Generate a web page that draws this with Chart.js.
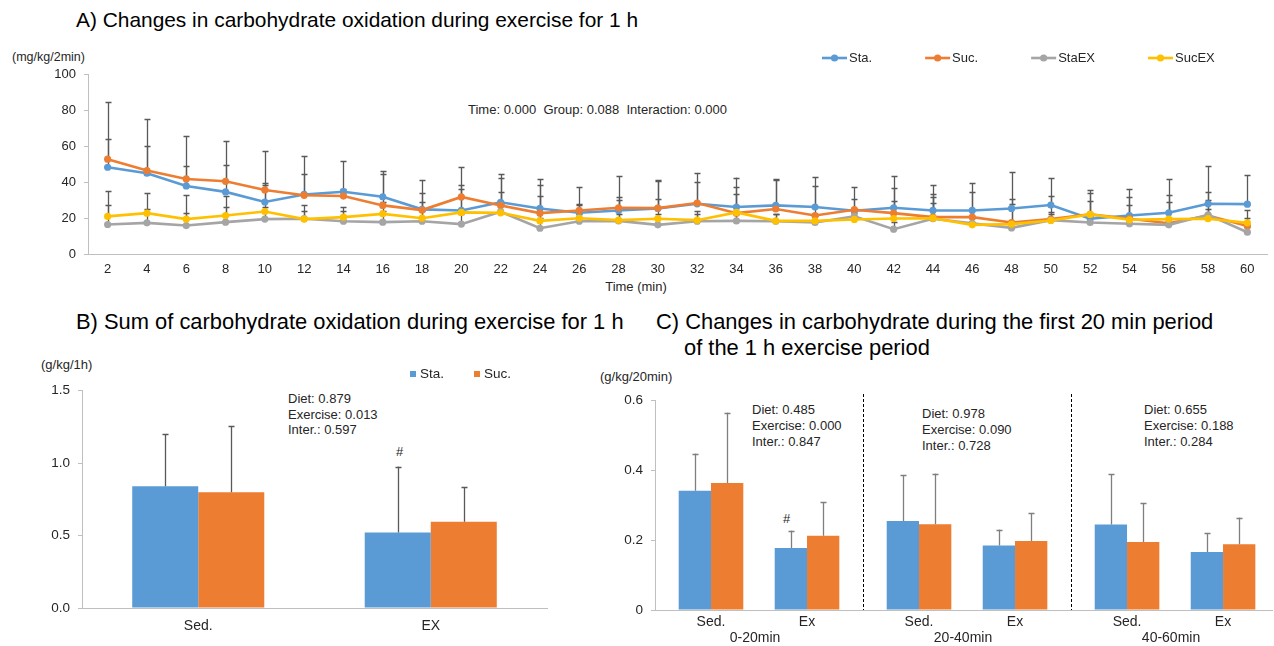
<!DOCTYPE html>
<html><head><meta charset="utf-8">
<script src="https://cdn.jsdelivr.net/npm/chart.js@4.4.0/dist/chart.umd.min.js"></script>
<style>
body{margin:0;background:#fff;width:1274px;height:646px;overflow:hidden;position:relative;font-family:"Liberation Sans",Arial,sans-serif;}
canvas{position:absolute;}
.t{position:absolute;white-space:nowrap;color:#000;}
.s{position:absolute;white-space:nowrap;color:#262626;font-size:13px;}
</style></head><body>
<div class="t" style="left:76px;top:7px;font-size:20.9px;line-height:26px">A) Changes in carbohydrate oxidation during exercise for 1 h</div>
<div class="s" style="left:12px;top:50px;font-size:12.5px;line-height:15px">(mg/kg/2min)</div>
<div class="s" style="left:468px;top:102px;line-height:16px">Time: 0.000&nbsp;&nbsp;Group: 0.088&nbsp;&nbsp;Interaction: 0.000</div>
<div class="s" style="left:586px;top:279px;line-height:16px;width:100px;text-align:center">Time (min)</div>

<div class="t" style="left:76px;top:309px;font-size:21.9px;line-height:26px">B) Sum of carbohydrate oxidation during exercise for 1 h</div>
<div class="s" style="left:41px;top:357px;line-height:16px">(g/kg/1h)</div>
<div class="s" style="left:288px;top:391px;line-height:15.5px">Diet: 0.879<br>Exercise: 0.013<br>Inter.: 0.597</div>
<div class="s" style="left:396px;top:444px;line-height:16px">#</div>

<div class="t" style="left:656px;top:309px;font-size:21.9px;line-height:26px">C) Changes in carbohydrate during the first 20 min period</div>
<div class="t" style="left:684px;top:335px;font-size:21.9px;line-height:26px">of the 1 h exercise period</div>
<div class="s" style="left:600px;top:369px;line-height:16px">(g/kg/20min)</div>
<div class="s" style="left:752px;top:402px;line-height:16px">Diet: 0.485<br>Exercise: 0.000<br>Inter.: 0.847</div>
<div class="s" style="left:922px;top:406px;line-height:16px">Diet: 0.978<br>Exercise: 0.090<br>Inter.: 0.728</div>
<div class="s" style="left:1144px;top:402px;line-height:16px">Diet: 0.655<br>Exercise: 0.188<br>Inter.: 0.284</div>
<div class="s" style="left:783px;top:511px;line-height:16px">#</div>

<canvas id="cA" width="1274" height="300" style="left:0;top:0"></canvas>
<canvas id="cB" width="560" height="286" style="left:0;top:360px"></canvas>
<canvas id="cC" width="674" height="286" style="left:600px;top:360px"></canvas>

<script>
// ---------- Panel A data ----------
const timeLabels = ['2','4','6','8','10','12','14','16','18','20','22','24','26','28','30','32','34','36','38','40','42','44','46','48','50','52','54','56','58','60'];
const staMean   = [48.2,44.9,37.8,34.5,28.9,33.1,34.6,31.8,24.8,24.2,28.7,25.3,22.9,24.2,25.3,27.9,26.1,27.0,26.1,24.0,25.7,24.2,24.2,25.3,27.2,19.6,21.4,22.9,27.9,27.7];
const staSD     = [15.5,14.9,11.2,15.0,10.8,21.1,17.2,14.2,16.4,14.0,15.8,16.4,4.8,7.3,15.3,12.3,16.4,14.7,16.5,6.4,17.5,14.0,15.3,20.1,15.1,14.3,14.9,18.8,20.9,16.2];
const sucMean   = [52.7,46.4,41.7,40.4,35.6,32.6,32.2,27.0,24.4,31.7,27.0,22.7,24.2,25.7,25.5,28.3,22.7,25.0,21.4,24.6,22.7,20.5,20.5,17.5,19.4,22.0,19.6,17.1,21.4,15.6];
const sucSD     = [31.5,28.5,23.7,22.5,21.6,11.9,4.0,17.7,9.5,16.7,15.1,15.7,13.0,17.7,15.7,16.6,14.7,16.3,16.4,12.5,14.0,13.0,14.1,13.0,12.6,13.6,12.1,15.7,13.1,9.0];
const staExMean = [16.4,17.3,15.8,17.7,19.4,19.6,18.2,17.7,18.2,16.6,23.5,14.3,18.2,18.4,16.2,18.2,18.4,18.2,17.5,20.9,13.8,19.6,17.0,14.5,18.8,17.5,16.8,16.2,21.8,12.1];
const staExSD   = [10.8,7.7,7.1,8.4,6.6,4.4,5.8,6.3,5.8,5.4,4.5,5.7,3.8,3.6,6.1,3.8,3.6,3.8,3.5,3.1,4.2,8.7,3.0,3.5,3.2,3.5,3.2,3.8,3.2,2.9];
const sucExMean = [20.9,22.7,19.4,21.4,23.6,19.4,20.5,22.3,19.9,23.1,22.9,18.4,19.9,18.8,19.6,18.8,23.1,18.4,18.4,19.2,19.7,19.9,16.2,16.6,18.6,22.0,19.0,19.4,19.6,17.3];
const sucExSD   = [14.3,11.2,13.2,10.8,14.8,7.6,5.8,6.4,8.8,13.0,11.4,13.8,7.1,11.4,10.8,5.2,10.2,3.6,3.6,3.8,9.9,11.6,3.8,11.3,4.7,7.6,8.0,9.5,10.4,2.7];
const yTicksA = [0,20,40,60,80,100];

// ---------- Panel B data ----------
const groupsB = ['Sed.','EX'];
const staB   = [0.841,0.521];
const staBSD = [0.360,0.455];
const sucB   = [0.799,0.595];
const sucBSD = [0.455,0.239];

// ---------- Panel C data ----------
const periodsC = ['0-20min','20-40min','40-60min'];
const condsC   = ['Sed.','Ex'];
const staC   = [0.341,0.177,0.254,0.184,0.244,0.166];
const staCSD = [0.106,0.050,0.132,0.046,0.145,0.053];
const sucC   = [0.363,0.212,0.245,0.197,0.194,0.188];
const sucCSD = [0.201,0.096,0.145,0.080,0.112,0.076];

const FONT = '"Liberation Sans", Arial, sans-serif';
Chart.defaults.font.family = FONT;
const BLUE='#5B9BD5', ORANGE='#ED7D31', GRAY='#A5A5A5', YELLOW='#FFC000';
const AXIS='#bfbfbf', TXT='#262626';

function drawErr(chart, o){
  const ctx = chart.ctx, ys = chart.scales.y;
  ctx.save();
  ctx.strokeStyle = o.color; ctx.lineWidth = o.width;
  chart.data.datasets.forEach((ds,i)=>{
    if(!ds.sd) return;
    const meta = chart.getDatasetMeta(i);
    meta.data.forEach((el,j)=>{
      const d = ds.data[j]; const v = (typeof d === 'object') ? d.y : d;
      const top = ys.getPixelForValue(v + ds.sd[j]);
      const x = Math.round(el.x) + 0.5;
      ctx.beginPath();
      ctx.moveTo(x, el.y); ctx.lineTo(x, top);
      ctx.moveTo(x - o.cap, Math.round(top)+0.5); ctx.lineTo(x + o.cap, Math.round(top)+0.5);
      ctx.stroke();
    });
  });
  ctx.restore();
}
const errorBars = {
  id:'errorBars',
  beforeDatasetsDraw(chart,a,o){ if(o.under) drawErr(chart,o); },
  afterDatasetsDraw(chart,a,o){ if(!o.under) drawErr(chart,o); }
};
const lineLegend = {
  id:'lineLegend',
  afterDraw(chart,a,o){
    const ctx = chart.ctx; let x = o.x;
    ctx.save(); ctx.font = '13px ' + FONT; ctx.textBaseline = 'middle';
    chart.data.datasets.forEach(ds=>{
      ctx.strokeStyle = ds.borderColor; ctx.lineWidth = 2.6;
      ctx.beginPath(); ctx.moveTo(x,o.y); ctx.lineTo(x+o.len,o.y); ctx.stroke();
      ctx.fillStyle = ds.borderColor; ctx.beginPath(); ctx.arc(x+o.len/2,o.y,3.6,0,Math.PI*2); ctx.fill();
      ctx.fillStyle = TXT; ctx.fillText(ds.label, x+o.len+2, o.y);
      x += o.len + 2 + ctx.measureText(ds.label).width + o.gap;
    });
    ctx.restore();
  }
};
const boxLegend = {
  id:'boxLegend',
  afterDraw(chart,a,o){
    const ctx = chart.ctx; let x = o.x;
    ctx.save(); ctx.font = '13.5px ' + FONT; ctx.textBaseline = 'middle';
    chart.data.datasets.forEach(ds=>{
      ctx.fillStyle = ds.backgroundColor; ctx.fillRect(x, o.y-3, 6, 6);
      ctx.fillStyle = TXT; ctx.fillText(ds.label, x+10, o.y);
      x += 10 + ctx.measureText(ds.label).width + o.gap;
    });
    ctx.restore();
  }
};

// ---------- Chart A ----------
function lineDs(label, data, sd, color, order){
  return {label, data, sd, borderColor:color, backgroundColor:color, pointBackgroundColor:color,
          borderWidth:2.6, pointRadius:3.6, pointBorderWidth:0, tension:0, order};
}
new Chart(document.getElementById('cA'), {
  type:'line',
  data:{labels:timeLabels, datasets:[
    lineDs('Sta.',  staMean,   staSD,   BLUE,   4),
    lineDs('Suc.',  sucMean,   sucSD,   ORANGE, 3),
    lineDs('StaEX', staExMean, staExSD, GRAY,   2),
    lineDs('SucEX', sucExMean, sucExSD, YELLOW, 1)
  ]},
  options:{
    responsive:false, animation:false, events:[],
    layout:{padding:{top:74,right:7,left:0,bottom:0}},
    plugins:{legend:{display:false}, tooltip:{enabled:false},
      errorBars:{color:'#595959', width:1.3, cap:3, under:true},
      lineLegend:{x:822, y:58, len:25, gap:53}},
    scales:{
      x:{type:'category', offset:true, grid:{display:false, drawTicks:false}, border:{color:AXIS, width:1},
         ticks:{autoSkip:false, maxRotation:0, padding:8, color:TXT, font:{size:13}},
         afterFit(s){ s.height = 46; }},
      y:{min:0, max:100, afterBuildTicks(s){ s.ticks = yTicksA.map(v=>({value:v})); },
         ticks:{padding:8, color:TXT, font:{size:13}},
         grid:{drawOnChartArea:false, tickLength:4, color:AXIS}, border:{color:AXIS, width:1},
         afterFit(s){ s.width = 88; }}
    }
  },
  plugins:[errorBars, lineLegend]
});

// ---------- Chart B ----------
new Chart(document.getElementById('cB'), {
  type:'bar',
  data:{labels:groupsB, datasets:[
    {label:'Sta.', data:staB, sd:staBSD, backgroundColor:BLUE, borderWidth:0},
    {label:'Suc.', data:sucB, sd:sucBSD, backgroundColor:ORANGE, borderWidth:0}
  ]},
  options:{
    responsive:false, animation:false, events:[],
    categoryPercentage:0.568, barPercentage:1,
    layout:{padding:{top:30.7,right:13,left:0,bottom:0}},
    plugins:{legend:{display:false}, tooltip:{enabled:false},
      errorBars:{color:'#595959', width:1.3, cap:3, under:false},
      boxLegend:{x:410, y:14, gap:30}},
    scales:{
      x:{grid:{display:false, drawTicks:false}, border:{color:AXIS, width:1},
         ticks:{padding:10, color:TXT, font:{size:14}},
         afterFit(s){ s.height = 38; }},
      y:{min:0, max:1.5, ticks:{stepSize:0.5, padding:8, color:TXT, font:{size:13.5}, callback:v=>v.toFixed(1)},
         grid:{drawOnChartArea:false, tickLength:4, color:AXIS}, border:{color:AXIS, width:1},
         afterFit(s){ s.width = 82; }}
    }
  },
  plugins:[errorBars, boxLegend]
});

// ---------- Chart C ----------
const GAP = 16/96;                 // extra space between period groups (in bar-slot units)
const STRIDE = condsC.length + GAP;
const posC = i => Math.floor(i/condsC.length)*STRIDE + (i % condsC.length);
const ticksC = staC.map((v,i)=>posC(i));
const groupDecor = {
  id:'groupDecor',
  afterDraw(chart){
    const ctx = chart.ctx, xs = chart.scales.x, ys = chart.scales.y;
    ctx.save();
    ctx.strokeStyle = '#000'; ctx.lineWidth = 1; ctx.setLineDash([3,2]);
    for(let g=1; g<periodsC.length; g++){
      const px = Math.round(xs.getPixelForValue(g*STRIDE - 0.5 - GAP/2)) + 0.5;
      ctx.beginPath(); ctx.moveTo(px, ys.top - 6); ctx.lineTo(px, ys.bottom); ctx.stroke();
    }
    ctx.setLineDash([]);
    ctx.fillStyle = TXT; ctx.font = '14px ' + FONT; ctx.textAlign = 'center'; ctx.textBaseline = 'middle';
    periodsC.forEach((p,g)=>{
      ctx.fillText(p, xs.getPixelForValue(g*STRIDE + (condsC.length-1)/2) - 4, ys.bottom + 28);
    });
    ctx.restore();
  }
};
new Chart(document.getElementById('cC'), {
  type:'bar',
  data:{datasets:[
    {label:'Sta.', data:staC.map((v,i)=>({x:posC(i), y:v})), sd:staCSD, backgroundColor:BLUE, borderWidth:0},
    {label:'Suc.', data:sucC.map((v,i)=>({x:posC(i), y:v})), sd:sucCSD, backgroundColor:ORANGE, borderWidth:0}
  ]},
  options:{
    responsive:false, animation:false, events:[],
    categoryPercentage:0.673, barPercentage:1,
    layout:{padding:{top:40,right:2,left:0,bottom:0}},
    plugins:{legend:{display:false}, tooltip:{enabled:false},
      errorBars:{color:'#7f7f7f', width:1.3, cap:3, under:false}},
    scales:{
      x:{type:'linear', offset:false, min:-0.5-GAP/2, max:ticksC[ticksC.length-1]+0.51,
         afterBuildTicks(s){ s.ticks = ticksC.map(v=>({value:v})); },
         grid:{display:false, drawTicks:false, offset:false}, border:{color:AXIS, width:1},
         ticks:{autoSkip:false, maxRotation:0, padding:3.5, color:TXT, font:{size:14},
                callback:(v,i)=>condsC[i % condsC.length]},
         afterFit(s){ s.height = 36; }},
      y:{min:0, max:0.6, ticks:{stepSize:0.2, padding:8, color:TXT, font:{size:13.5}, callback:v=> v===0 ? '0' : v.toFixed(1)},
         grid:{drawOnChartArea:false, tickLength:4, color:AXIS}, border:{color:AXIS, width:1},
         afterFit(s){ s.width = 55; }}
    }
  },
  plugins:[errorBars, groupDecor]
});
</script>
</body></html>
